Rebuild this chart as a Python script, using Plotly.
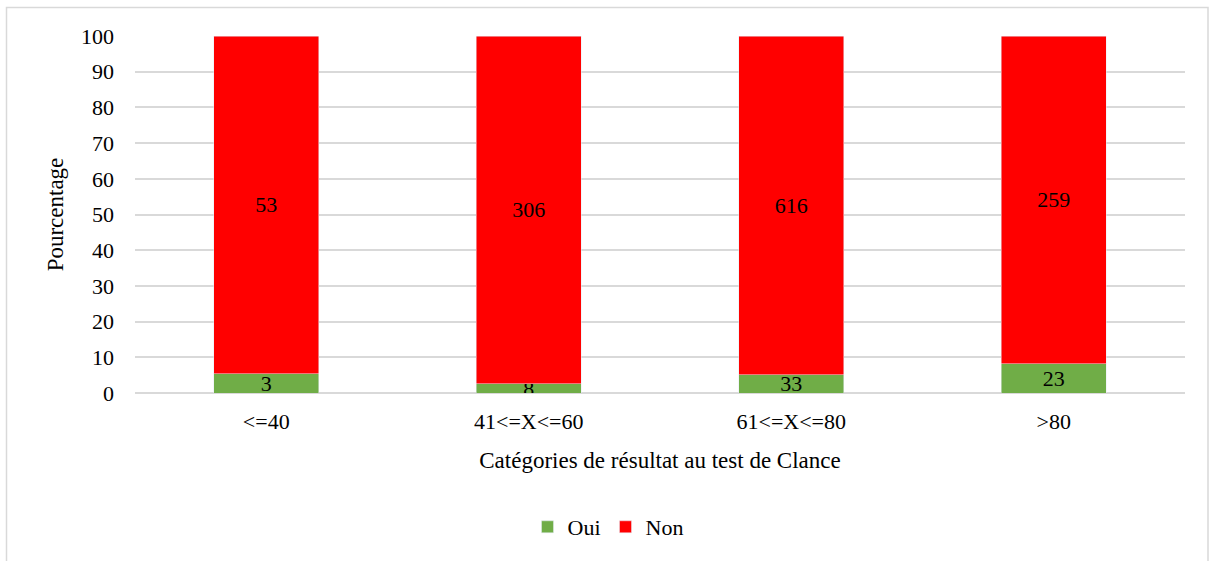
import plotly.graph_objects as go

categories = ["<=40", "41<=X<=60", "61<=X<=80", ">80"]
oui = [3, 8, 33, 23]
non = [53, 306, 616, 259]

FONT = "Liberation Serif"
TF = dict(family=FONT, size=22, color="black")

fig = go.Figure()
fig.add_trace(go.Bar(
    name="Oui", x=categories, y=oui, marker_color="#70ad47",
    text=[str(v) for v in oui], textposition="inside", insidetextanchor="middle",
    textangle=0, textfont=TF, constraintext="none", hoverinfo="skip",
))
fig.add_trace(go.Bar(
    name="Non", x=categories, y=non, marker_color="#ff0000",
    text=[str(v) for v in non], textposition="inside", insidetextanchor="middle",
    textangle=0, textfont=TF, constraintext="none", hoverinfo="skip",
))

W, H = 1210, 561
L, R, T, B = 135, 25, 36, 168
pw, ph = W - L - R, H - T - B

def px(x):
    return (x - L) / pw

def py(y):
    return (H - B - y) / ph

fig.update_layout(
    width=W, height=H,
    barmode="stack", barnorm="percent", bargap=0.6,
    margin=dict(l=L, r=R, t=T, b=B),
    paper_bgcolor="white", plot_bgcolor="white",
    font=TF,
    uniformtext=dict(minsize=22, mode="show"),
    legend=dict(
        orientation="h", xref="container", yref="container",
        x=608 / W, xanchor="center", y=1 - 527 / H, yanchor="middle",
        font=TF, traceorder="normal",
    ),
    xaxis=dict(
        showgrid=False, showline=False, ticks="", ticklabelstandoff=13,
        tickfont=TF,
        title=dict(text="Catégories de résultat au test de Clance", standoff=18,
                   font=dict(family=FONT, size=23, color="black")),
    ),
    yaxis=dict(
        range=[0, 100], dtick=10, showgrid=True, gridcolor="#d9d9d9", gridwidth=1.5,
        zeroline=True, zerolinecolor="#d9d9d9", zerolinewidth=1.5,
        showline=False, ticks="", ticklabelstandoff=20, tickfont=TF,
        title=dict(text="Pourcentage", standoff=10,
                   font=dict(family=FONT, size=23, color="black")),
    ),
    shapes=[dict(
        type="rect", xref="paper", yref="paper",
        x0=px(6.5), x1=px(1208), y0=py(580), y1=py(7.5),
        line=dict(color="#d9d9d9", width=1.5), fillcolor="rgba(0,0,0,0)", layer="below",
    )],
)

fig.write_html(
    "out.html",
    config={"displayModeBar": False},
    post_script="document.body.style.margin='0';document.body.style.padding='0';",
)
